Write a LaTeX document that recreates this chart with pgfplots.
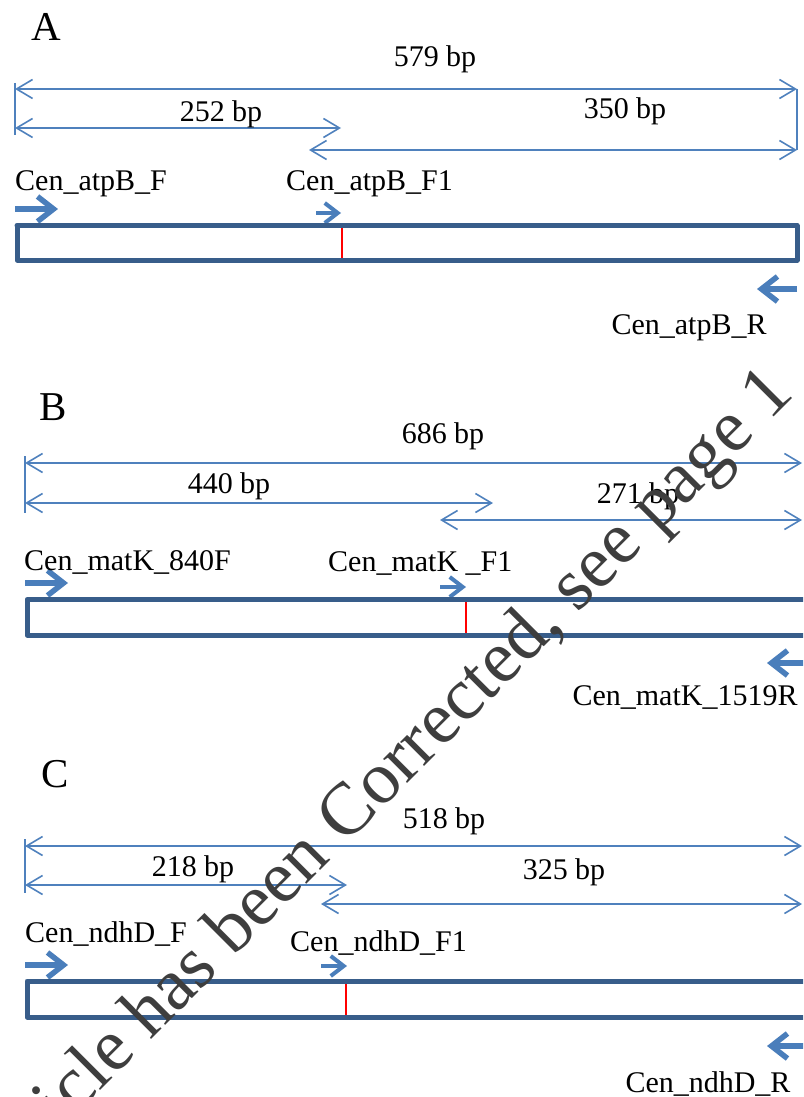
\documentclass[border=0pt]{standalone}
\usepackage{pgfplots}
\pgfplotsset{compat=1.18}
\usepackage{fontspec}
\setmainfont{Liberation Serif}
\usetikzlibrary{arrows.meta}
\definecolor{dimblue}{RGB}{79,129,189}
\definecolor{boxblue}{RGB}{56,93,138}
\definecolor{primblue}{RGB}{74,126,187}
\definecolor{wmgray}{RGB}{62,62,62}
\tikzset{
  lab/.style={font=\fontsize{30}{36}\selectfont, inner sep=0pt, text=black},
  plab/.style={font=\fontsize{41}{48}\selectfont, inner sep=0pt, text=black},
  dim/.style={color=dimblue, line width=1.6pt},
  dimarr/.style={dim, arrows={Straight Barb[length=16pt,width=19pt]-Straight Barb[length=16pt,width=19pt]}},
  box/.style={color=boxblue, line width=5pt, line join=round, line cap=round},
  prim/.style={color=primblue, line width=5.5pt, arrows={-Straight Barb[length=16pt,width=25pt]}},
  primsm/.style={color=primblue, line width=4pt, arrows={-Straight Barb[length=13pt,width=20pt]}},
  cut/.style={color=red, line width=2pt},
}
\begin{document}
\begin{tikzpicture}
\begin{axis}[at={(0,0)}, anchor=south west, scale only axis,
  width=803pt, height=1097pt,
  xmin=0, xmax=803, ymin=0, ymax=1097, y dir=reverse,
  hide axis, clip=true]
% ---------------- Panel A ----------------
\addplot[dim] coordinates {(15,83) (15,135)};
\addplot[dim] coordinates {(797,89) (797,150)};
\addplot[dimarr] coordinates {(15,89) (797,89)};
\addplot[dimarr] coordinates {(15,128) (341,128)};
\addplot[dimarr] coordinates {(309,150) (797,150)};
\addplot[prim] coordinates {(15,209) (58,209)};
\addplot[primsm] coordinates {(316,213) (341,213)};
\addplot[box] coordinates {(17,225.5) (797,225.5) (797,260) (17,260) (17,225.5)};
\addplot[cut] coordinates {(342,228) (342,258)};
\addplot[prim] coordinates {(797,289) (757,289)};
% ---------------- Panel B ----------------
\addplot[dim] coordinates {(25,456) (25,513)};
\addplot[dimarr] coordinates {(25,463) (802,463)};
\addplot[dimarr] coordinates {(25,503) (493,503)};
\addplot[dimarr] coordinates {(440,520) (802,520)};
\addplot[prim] coordinates {(25,583) (68,583)};
\addplot[primsm] coordinates {(440,587) (466,587)};
\addplot[box] coordinates {(830,599.5) (27,599.5) (27,635) (830,635)};
\addplot[cut] coordinates {(466,602) (466,633)};
\addplot[prim] coordinates {(810,663) (767,663)};
% ---------------- Panel C ----------------
\addplot[dim] coordinates {(25,839) (25,893)};
\addplot[dimarr] coordinates {(25,846) (802,846)};
\addplot[dimarr] coordinates {(25,885) (347,885)};
\addplot[dimarr] coordinates {(321,904) (802,904)};
\addplot[prim] coordinates {(25,965) (68,965)};
\addplot[primsm] coordinates {(321,966) (347,966)};
\addplot[box] coordinates {(830,981) (27,981) (27,1017) (830,1017)};
\addplot[cut] coordinates {(346,984) (346,1015)};
\addplot[prim] coordinates {(810,1046) (767,1046)};
% ---------------- Texts ----------------
\node[plab, anchor=base] at (axis cs:46,41) {A};
\node[lab, anchor=base] at (axis cs:435,67) {579 bp};
\node[lab, anchor=base] at (axis cs:221,122) {252 bp};
\node[lab, anchor=base] at (axis cs:625,119) {350 bp};
\node[lab, anchor=base west] at (axis cs:15,190) {Cen\_atpB\_F};
\node[lab, anchor=base west] at (axis cs:286,190) {Cen\_atpB\_F1};
\node[lab, anchor=base] at (axis cs:689,334) {Cen\_atpB\_R};
\node[plab, anchor=base] at (axis cs:53,420) {B};
\node[lab, anchor=base] at (axis cs:443,443) {686 bp};
\node[lab, anchor=base] at (axis cs:229,493) {440 bp};
\node[lab, anchor=base] at (axis cs:638,503) {271 bp};
\node[lab, anchor=base west] at (axis cs:24,570) {Cen\_matK\_840F};
\node[lab, anchor=base west] at (axis cs:328,571) {Cen\_matK \_F1};
\node[lab, anchor=base] at (axis cs:685,705) {Cen\_matK\_1519R};
\node[plab, anchor=base] at (axis cs:55,787) {C};
\node[lab, anchor=base] at (axis cs:444,828) {518 bp};
\node[lab, anchor=base] at (axis cs:193,876) {218 bp};
\node[lab, anchor=base] at (axis cs:564,879) {325 bp};
\node[lab, anchor=base west] at (axis cs:25,942) {Cen\_ndhD\_F};
\node[lab, anchor=base west] at (axis cs:290,951) {Cen\_ndhD\_F1};
\node[lab, anchor=base] at (axis cs:708,1092) {Cen\_ndhD\_R};
% ---------------- Watermark ----------------
\node[rotate=45, anchor=base west, inner sep=0pt, text=wmgray,
      font=\fontsize{74}{80}\selectfont] at (axis cs:345,846)
      {\llap{This article has been\ }Corrected, see page 1};
\end{axis}
\pgfresetboundingbox
\path[use as bounding box] (0,0) rectangle (803pt,1097pt);
\end{tikzpicture}
\end{document}
